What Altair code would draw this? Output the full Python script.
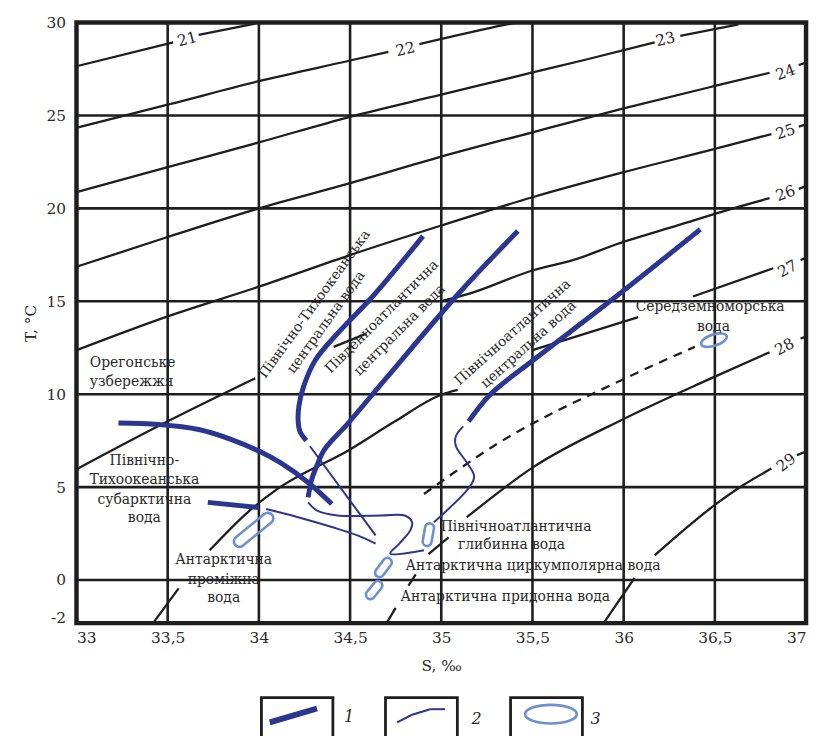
import altair as alt
import pandas as pd

FONT = "DejaVu Serif"
INK = "#1e1e1e"
TXT = "#2a2a2a"
BLUE = "#2b3592"
LIGHT = "#6d8fd3"
LAB_SIZE = 14
NUM_SIZE = 15.5

# ---------------- axes ----------------
S_TICKS = [33, 33.5, 34, 34.5, 35, 35.5, 36, 36.5, 37]
T_TICKS = [-2, 0, 5, 10, 15, 20, 25, 30]
S_GRID = [33.5, 34, 34.5, 35, 35.5, 36, 36.5]
T_GRID = [0, 5, 10, 15, 20, 25]

# ---------------- isopycnals (sigma-t), segment ids mark gaps under labels ----------------
sig21_s = [33.0, 33.53, 33.67, 33.98]
sig21_t = [27.65, 28.93, 29.34, 29.95]
sig21_seg = [0, 0, 1, 1]

sig22_s = [33.0, 33.5, 34.0, 34.5, 34.71, 34.88, 35.36, 35.41]
sig22_t = [24.34, 25.58, 26.85, 27.96, 28.43, 28.84, 29.9, 30.0]
sig22_seg = [0, 0, 0, 0, 0, 1, 1, 1]

sig23_s = [33.0, 33.5, 34.0, 34.5, 35.0, 35.49, 35.79, 36.17, 36.31, 36.63]
sig23_t = [20.88, 22.22, 23.55, 24.93, 26.12, 27.29, 28.0, 28.93, 29.29, 29.9]
sig23_seg = [0, 0, 0, 0, 0, 0, 0, 0, 1, 1]

sig24_s = [33.0, 33.5, 34.0, 34.5, 35.0, 35.49, 36.0, 36.5, 36.80, 36.96, 37.0]
sig24_t = [16.86, 18.46, 20.0, 21.36, 22.79, 24.07, 25.38, 26.59, 27.3, 27.72, 27.85]
sig24_seg = [0, 0, 0, 0, 0, 0, 0, 0, 0, 1, 1]

sig25_s = [33.0, 33.5, 34.0, 34.5, 35.0, 35.5, 36.0, 36.5, 36.81, 36.96, 37.0]
sig25_t = [12.37, 14.19, 15.79, 17.49, 19.08, 20.6, 21.95, 23.2, 24.0, 24.4, 24.52]
sig25_seg = [0, 0, 0, 0, 0, 0, 0, 0, 0, 1, 1]

sig26_s = [33.0, 33.5, 33.98, 34.41, 34.59, 35.01, 35.15, 35.5, 35.74, 35.96, 36.3, 36.61, 36.80, 36.96, 37.0]
sig26_t = [5.96, 8.54, 10.86, 12.55, 13.26, 15.04, 15.4, 16.66, 17.27, 18.07, 19.1, 20.03, 20.55, 21.05, 21.2]
sig26_seg = [0, 0, 0, 1, 1, 2, 2, 2, 2, 2, 2, 2, 2, 3, 3]

sig27_s = [33.42, 33.56, 33.73, 33.94, 34.1, 34.5, 34.74, 35.0, 35.09, 35.50, 36.08, 36.38, 36.82, 36.97, 37.0]
sig27_t = [-2.32, -0.45, 1.6, 3.66, 4.89, 7.03, 8.5, 9.97, 10.23, 12.37, 14.15, 15.26, 16.78, 17.22, 17.34]
sig27_seg = [0, 0, 1, 1, 1, 1, 1, 1, 1, 2, 2, 3, 3, 4, 4]

sig28_s = [34.70, 34.75, 34.82, 34.86, 34.93, 35.04, 35.14, 35.5, 36.0, 36.46, 36.80, 36.97, 37.0]
sig28_t = [-2.32, -1.5, -0.3, 0.3, 1.4, 2.3, 3.38, 6.05, 8.67, 10.77, 12.26, 13.0, 13.1]
sig28_seg = [0, 0, 1, 1, 2, 2, 3, 3, 3, 3, 3, 4, 4]

sig29_s = [35.89, 36.06, 36.17, 36.5, 36.65, 36.81, 36.95, 37.0]
sig29_t = [-2.32, 0.12, 1.33, 4.04, 5.07, 6.0, 6.72, 6.92]
sig29_seg = [0, 0, 1, 1, 1, 1, 2, 2]

ISO_LAB = ["21", "22", "23", "24", "25", "26", "27", "28", "29"]
ISO_LAB_S = [33.607, 34.803, 36.229, 36.887, 36.887, 36.887, 36.898, 36.882, 36.891]
ISO_LAB_T = [29.11, 28.57, 29.11, 27.33, 24.12, 20.81, 16.75, 12.55, 6.32]
ISO_LAB_ANGLE = [345, 347, 347, 340, 342, 340, 332, 332, 322]

# dashed mixing line
dash_s = [34.905, 35.31, 35.99, 36.39]
dash_t = [4.63, 7.35, 10.77, 12.55]

# ---------------- water-mass curves ----------------
# 1 - thick (upper/central waters)
np_sub_thick_s = [33.23, 33.45, 33.67, 33.85, 34.0, 34.12, 34.27, 34.40]
np_sub_thick_t = [8.45, 8.37, 8.1, 7.56, 6.94, 6.3, 5.25, 4.09]
np_sub_low_s = [33.72, 34.0]
np_sub_low_t = [4.18, 3.9]
np_cen_s = [34.90, 34.62, 34.43, 34.31, 34.245, 34.22, 34.215, 34.225, 34.26]
np_cen_t = [18.51, 15.22, 13.26, 11.84, 10.41, 9.4, 8.6, 8.0, 7.5]
sa_cen_s = [35.42, 35.11, 34.69, 34.49, 34.36, 34.31, 34.29, 34.27]
sa_cen_t = [18.78, 15.58, 10.77, 8.45, 7.03, 5.96, 5.43, 4.45]
na_cen_s = [35.15, 35.27, 35.5, 35.93, 36.42]
na_cen_t = [8.54, 10.0, 11.8, 15.04, 18.87]

# 2 - thin (intermediate/deep)
np_sub_thin_s = [34.04, 34.215, 34.40, 34.54, 34.64]
np_sub_thin_t = [3.82, 3.38, 2.85, 2.4, 1.96]
np_cen_thin_s = [34.28, 34.64]
np_cen_thin_t = [7.2, 2.4]
sa_thin_s = [34.27, 34.32, 34.43, 34.67, 34.80, 34.84, 34.83, 34.77, 34.72, 34.905]
sa_thin_t = [4.18, 3.73, 3.47, 3.47, 3.47, 3.11, 2.67, 1.96, 1.42, 1.6]
na_thin_s = [34.96, 35.16, 35.18, 35.14, 35.08, 35.08, 35.12]
na_thin_t = [3.11, 5.07, 5.6, 6.32, 7.21, 7.74, 8.27]

# 3 - water types (centres)
ELL_NAME = ["AAIW", "NADW", "AACW", "AABW", "MED"]
ELL_S = [33.971, 34.929, 34.683, 34.632, 36.495]
ELL_T = [2.70, 2.44, 0.675, -0.54, 12.91]

# ---------------- text labels ----------------
LAB_C = ["Північно-", "Тихоокеанська", "субарктична", "вода",
         "Антарктична", "проміжна", "вода",
         "Середземноморська", "вода",
         "Північноатлантична", "глибинна вода"]
LAB_C_S = [33.372, 33.372, 33.372, 33.372,
           33.807, 33.807, 33.807,
           36.474, 36.492,
           35.41, 35.385]
LAB_C_T = [6.39, 5.37, 4.33, 3.32,
           1.06, 0.0, -0.98,
           14.68, 13.62,
           2.85, 1.86]

LAB_L = ["Орегонське", "узбережжя", "Антарктична циркумполярна вода", "Антарктична придонна вода"]
LAB_L_S = [33.073, 33.073, 34.804, 34.776]
LAB_L_T = [11.68, 10.68, 0.75, -0.89]

LAB_R = ["Північно-Тихоокеанська", "центральна вода",
         "Південноатлантична", "центральна вода",
         "Північноатлантична", "центральна вода"]
LAB_R_S = [34.306, 34.369, 34.675, 34.772, 35.392, 35.479]
LAB_R_T = [14.85, 13.87, 14.16, 13.45, 13.33, 12.67]
LAB_R_ANGLE = [306, 306, 315, 315, 318, 318]

# ---------------- helpers ----------------
xs = alt.Scale(domain=[33, 37], nice=False, zero=False)
ys = alt.Scale(domain=[-2.32, 30], nice=False, zero=False)

xaxis = alt.Axis(values=S_TICKS, labelExpr="replace(toString(datum.value), '.', ',')",
                 grid=False, ticks=False, domain=False, labelOverlap=False,
                 labelFont=FONT, labelFontSize=NUM_SIZE, labelColor=TXT, labelPadding=8,
                 title="S, ‰", titleFont=FONT, titleFontSize=NUM_SIZE, titleFontWeight="normal",
                 titleColor=TXT, titlePadding=12)
yaxis = alt.Axis(values=T_TICKS, labelExpr="toString(datum.value)",
                 grid=False, ticks=False, domain=False, labelOverlap=False,
                 labelFont=FONT, labelFontSize=NUM_SIZE, labelColor=TXT, labelPadding=11,
                 title="T, °C", titleFont=FONT, titleFontSize=NUM_SIZE, titleFontWeight="normal",
                 titleColor=TXT, titlePadding=8)


def X():
    return alt.X("S:Q", scale=xs, axis=xaxis)


def Y():
    return alt.Y("T:Q", scale=ys, axis=yaxis)


def curves(pairs):
    rows = []
    for key, s, t, seg in pairs:
        if seg is None:
            seg = [0] * len(s)
        for i, (a, b, g) in enumerate(zip(s, t, seg)):
            rows.append({"key": f"{key}-{g}", "i": i, "S": a, "T": b})
    return pd.DataFrame(rows)


iso_df = curves([
    ("21", sig21_s, sig21_t, sig21_seg), ("22", sig22_s, sig22_t, sig22_seg),
    ("23", sig23_s, sig23_t, sig23_seg), ("24", sig24_s, sig24_t, sig24_seg),
    ("25", sig25_s, sig25_t, sig25_seg), ("26", sig26_s, sig26_t, sig26_seg),
    ("27", sig27_s, sig27_t, sig27_seg), ("28", sig28_s, sig28_t, sig28_seg),
    ("29", sig29_s, sig29_t, sig29_seg),
])
dash_df = curves([("d", dash_s, dash_t, None)])
thick_df = curves([
    ("a", np_sub_thick_s, np_sub_thick_t, None), ("b", np_sub_low_s, np_sub_low_t, None),
    ("c", np_cen_s, np_cen_t, None), ("d", sa_cen_s, sa_cen_t, None),
    ("e", na_cen_s, na_cen_t, None),
])
thin_df = curves([
    ("a", np_sub_thin_s, np_sub_thin_t, None), ("b", np_cen_thin_s, np_cen_thin_t, None),
    ("c", sa_thin_s, sa_thin_t, None), ("d", na_thin_s, na_thin_t, None),
])

layers = []
# grid
layers.append(alt.Chart(pd.DataFrame({"S": S_GRID})).mark_rule(color=INK, strokeWidth=2.6).encode(x=X()))
layers.append(alt.Chart(pd.DataFrame({"T": T_GRID})).mark_rule(color=INK, strokeWidth=2.6).encode(y=Y()))
# isopycnals
layers.append(alt.Chart(iso_df).mark_line(color=INK, strokeWidth=2.3, interpolate="monotone")
              .encode(x=X(), y=Y(), detail="key:N", order="i:Q"))
layers.append(alt.Chart(dash_df).mark_line(color=INK, strokeWidth=2.3, strokeDash=[9, 7], interpolate="monotone")
              .encode(x=X(), y=Y(), detail="key:N", order="i:Q"))
# water-mass curves
layers.append(alt.Chart(thin_df).mark_line(color=BLUE, strokeWidth=2.0, interpolate="catmull-rom")
              .encode(x=X(), y=Y(), detail="key:N", order="i:Q"))
layers.append(alt.Chart(thick_df).mark_line(color=BLUE, strokeWidth=5.0, interpolate="catmull-rom", strokeCap="butt")
              .encode(x=X(), y=Y(), detail="key:N", order="i:Q"))


def capsule(h):
    return (f"M {-1 + h} {-h} L {1 - h} {-h} A {h} {h} 0 0 1 {1 - h} {h} "
            f"L {-1 + h} {h} A {h} {h} 0 0 1 {-1 + h} {-h} Z")


ELLIPSE = "M -1 0 A 1 0.42 0 1 1 1 0 A 1 0.42 0 1 1 -1 0 Z"
# shape style per water type: (path, length px, angle)
ELL_STYLE = {
    "AAIW": (capsule(0.23), 48, 321),
    "NADW": (capsule(0.39), 23, 280),
    "AACW": (capsule(0.41), 22, 307),
    "AABW": (capsule(0.43), 21, 309),
    "MED": (ELLIPSE, 27, 342),
}
for name, s, t in zip(ELL_NAME, ELL_S, ELL_T):
    path, L, ang = ELL_STYLE[name]
    layers.append(alt.Chart(pd.DataFrame({"S": [s], "T": [t]}))
                  .mark_point(shape=path, size=L * L, angle=ang, filled=False, color=LIGHT,
                              strokeWidth=2.6, opacity=1)
                  .encode(x=X(), y=Y()))

# labels
lab_c = pd.DataFrame({"label": LAB_C, "S": LAB_C_S, "T": LAB_C_T})
layers.append(alt.Chart(lab_c).mark_text(font=FONT, fontSize=LAB_SIZE, color=TXT, align="center", baseline="middle")
              .encode(x=X(), y=Y(), text="label:N"))
lab_l = pd.DataFrame({"label": LAB_L, "S": LAB_L_S, "T": LAB_L_T})
layers.append(alt.Chart(lab_l).mark_text(font=FONT, fontSize=LAB_SIZE, color=TXT, align="left", baseline="middle")
              .encode(x=X(), y=Y(), text="label:N"))
lab_r = pd.DataFrame({"label": LAB_R, "S": LAB_R_S, "T": LAB_R_T, "ang": LAB_R_ANGLE})
layers.append(alt.Chart(lab_r).mark_text(font=FONT, fontSize=LAB_SIZE, color=TXT, align="center", baseline="middle")
              .encode(x=X(), y=Y(), text="label:N", angle=alt.Angle("ang:Q", scale=None)))
iso_lab = pd.DataFrame({"label": ISO_LAB, "S": ISO_LAB_S, "T": ISO_LAB_T, "ang": ISO_LAB_ANGLE})
layers.append(alt.Chart(iso_lab).mark_text(font=FONT, fontSize=NUM_SIZE, color=TXT, align="center", baseline="middle")
              .encode(x=X(), y=Y(), text="label:N", angle=alt.Angle("ang:Q", scale=None)))

# ---------------- legend (below plot) ----------------
one = pd.DataFrame({"k": [0]})


def box(x1, x2):
    return (alt.Chart(one).mark_rect(fillOpacity=0, stroke=INK, strokeWidth=2.8)
            .encode(x=alt.value(x1), x2=alt.value(x2), y=alt.value(680), y2=alt.value(760)))


def seg(x1, y1, x2, y2, w):
    return (alt.Chart(one).mark_rule(color=BLUE, strokeWidth=w, strokeCap="butt")
            .encode(x=alt.value(x1), y=alt.value(y1), x2=alt.value(x2), y2=alt.value(y2)))


def num(x, y, s):
    return (alt.Chart(one).mark_text(text=s, font=FONT, fontSize=16, fontStyle="italic", color=TXT,
                                     align="center", baseline="middle")
            .encode(x=alt.value(x), y=alt.value(y)))


layers += [box(186.3, 258.3), box(311.3, 383.7), box(437.3, 509.7)]
layers.append(seg(194.7, 705, 242.3, 691, 6))
layers.append(seg(323, 705, 338, 697.3, 2))
layers.append(seg(338, 697.3, 356.3, 691.7, 2))
layers.append(seg(356.3, 691.7, 371.3, 691.7, 2))
layers.append(alt.Chart(one).mark_point(shape="M -1 0 A 1 0.36 0 1 1 1 0 A 1 0.36 0 1 1 -1 0 Z",
                                        size=52 * 52, filled=False, color=LIGHT, strokeWidth=2.6, opacity=1)
              .encode(x=alt.value(478), y=alt.value(696.7)))
layers += [num(274.7, 700, "1"), num(403, 701.7, "2"), num(523, 701.7, "3")]

chart = (alt.layer(*layers)
         .properties(width=735, height=605,
                     padding={"left": 69, "top": 12, "right": 8, "bottom": 111},
                     autosize=alt.AutoSizeParams(type="none"))
         .configure_view(stroke=INK, strokeWidth=4.5))

chart.save("out.html", embed_options={"renderer": "svg", "actions": False})
